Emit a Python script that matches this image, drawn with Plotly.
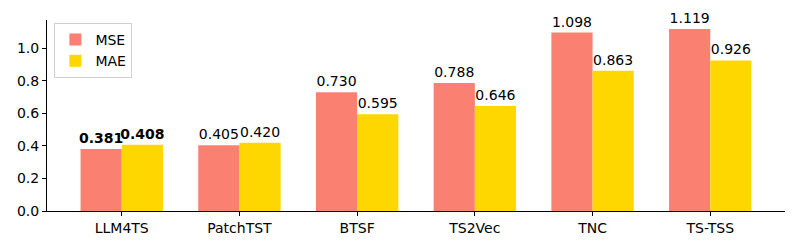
import plotly.graph_objects as go

categories = ["LLM4TS", "PatchTST", "BTSF", "TS2Vec", "TNC", "TS-TSS"]
mse = [0.381, 0.405, 0.730, 0.788, 1.098, 1.119]
mae = [0.408, 0.420, 0.595, 0.646, 0.863, 0.926]
y_ticks = [0.0, 0.2, 0.4, 0.6, 0.8, 1.0]

width = 0.35
idx = list(range(len(categories)))

def labels(vals):
    out = []
    for i, v in enumerate(vals):
        s = f"{v:.3f}"
        out.append(f"<b>{s}</b>" if i == 0 else s)
    return out

font = dict(family="DejaVu Sans", size=14, color="black")

fig = go.Figure()
fig.add_trace(go.Bar(
    x=[i - width / 2 for i in idx], y=mse, width=width, name="MSE",
    marker=dict(color="#FA8072", line=dict(width=0)),
    text=labels(mse), textposition="outside", constraintext="none",
    textfont=font, cliponaxis=False,
))
fig.add_trace(go.Bar(
    x=[i + width / 2 for i in idx], y=mae, width=width, name="MAE",
    marker=dict(color="#FFD700", line=dict(width=0)),
    text=labels(mae), textposition="outside", constraintext="none",
    textfont=font, cliponaxis=False,
))

ymax = max(max(mse), max(mae)) * 1.05
fig.update_layout(
    width=792, height=242,
    margin=dict(l=39, r=15, t=12, b=39, autoexpand=False),
    plot_bgcolor="white", paper_bgcolor="white",
    font=font,
    barmode="overlay",
    showlegend=True,
    legend=dict(x=0.01, y=0.985, xanchor="left", yanchor="top",
                bgcolor="rgba(255,255,255,0.8)", bordercolor="#d0d0d0", borderwidth=1,
                tracegroupgap=0,
                font=dict(family="DejaVu Sans", size=14)),
    xaxis=dict(
        range=[-0.635, len(categories) - 1 + 0.635],
        tickmode="array", tickvals=idx, ticktext=categories,
        showgrid=False, zeroline=False, showline=True, linecolor="black", linewidth=1,
        ticks="outside", ticklen=4, tickcolor="black",
    ),
    yaxis=dict(
        range=[0, ymax],
        tickmode="array", tickvals=y_ticks, ticktext=[f"{t:.1f}" for t in y_ticks],
        showgrid=False, zeroline=False, showline=True, linecolor="black", linewidth=1,
        ticks="outside", ticklen=4, tickcolor="black",
    ),
)
fig.update_traces(textangle=0)
fig.write_html("out.html")
